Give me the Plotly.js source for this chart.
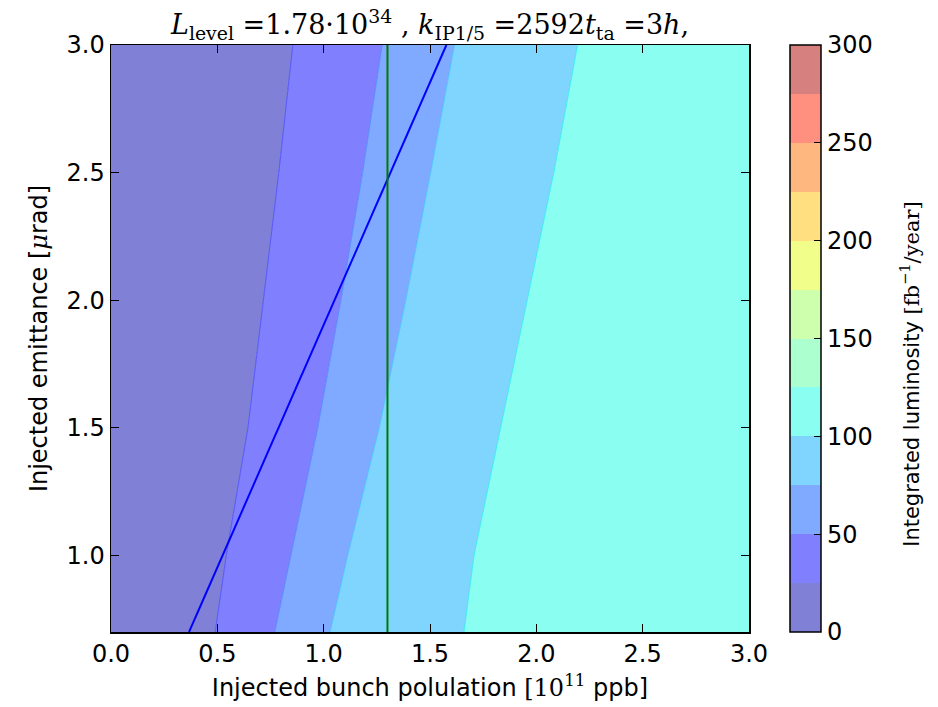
<!DOCTYPE html>
<html>
<head>
<meta charset="utf-8">
<script src="https://cdn.plot.ly/plotly-3.0.1.min.js"></script>
<style>
  html, body { margin: 0; padding: 0; background: #ffffff; }
  #chart { width: 938px; height: 707px; }
</style>
</head>
<body>
<div id="chart"></div>
<script>
// ---- data ----
// emittance samples (y) at which the filled-contour boundaries were read
const emitY = [0.7, 1.0, 1.5, 2.0, 2.5, 3.0];
// bunch population (x) of each contour boundary at those emittances
const bound25  = [0.49, 0.542, 0.644, 0.717, 0.789, 0.855];
const bound50  = [0.77, 0.847, 0.972, 1.081, 1.183, 1.275];
const bound75  = [1.03, 1.113, 1.261, 1.386, 1.503, 1.615];
const bound100 = [1.66, 1.707, 1.832, 1.957, 2.082, 2.194];
// contour levels (fb^-1/year)
const levels = [0, 25, 50, 75, 100, 125, 150, 175, 200, 225, 250, 275, 300];
const levelTicks = [0, 50, 100, 150, 200, 250, 300];
// jet (alpha 0.5 on white) colours of each band
const bandColors = ['#8080d6', '#8080ff', '#80aaff', '#80d5ff', '#8afff1', '#acffce',
                    '#ceffac', '#f1ff8a', '#ffdf80', '#ffb780', '#ff9080', '#d78080'];
// brightness line and chosen bunch population
const brightN = [0.367, 1.577];
const brightE = [0.7, 3.0];
const chosenN = 1.3;
const xTicks = [0.0, 0.5, 1.0, 1.5, 2.0, 2.5, 3.0];
const yTicks = [1.0, 1.5, 2.0, 2.5, 3.0];
const X_RANGE = [0, 3];
const Y_RANGE = [0.7, 3.0];

const sans = 'DejaVu Sans, sans-serif';
const serif = 'DejaVu Serif, serif';

const edgeLeft = emitY.map(() => X_RANGE[0]);
const edgeRight = emitY.map(() => X_RANGE[1]);
const boundaries = [bound25, bound50, bound75, bound100, edgeRight];
const boundLine = ['rgba(70,70,255,0.8)', 'rgba(70,130,255,0.8)', 'rgba(60,190,255,0.8)', 'rgba(40,235,235,0.8)', 'rgba(0,0,0,0)'];

const traces = [];
traces.push({
  x: edgeLeft, y: emitY, mode: 'lines', line: {width: 0, color: 'rgba(0,0,0,0)'},
  showlegend: false, hoverinfo: 'skip'
});
boundaries.forEach((b, i) => {
  traces.push({
    x: b, y: emitY, mode: 'lines', fill: 'tonextx', fillcolor: bandColors[i],
    line: {width: 1, color: boundLine[i]}, showlegend: false, hoverinfo: 'skip'
  });
});

// colour bar source (discrete jet bands)
const nb = bandColors.length;
const cscale = [];
bandColors.forEach((c, i) => {
  cscale.push([i / nb, c]);
  cscale.push([(i + 1) / nb, c]);
});
traces.push({
  x: [null], y: [null], mode: 'markers', showlegend: false, hoverinfo: 'skip',
  marker: {
    color: [levels[0]], cmin: levels[0], cmax: levels[levels.length - 1],
    colorscale: cscale, showscale: true,
    colorbar: {
      x: 1.0643, xanchor: 'left', xref: 'paper', y: 0.5, yanchor: 'middle',
      len: 1, lenmode: 'fraction', thickness: 31, xpad: 0, ypad: 0,
      outlinewidth: 1.5, outlinecolor: '#000',
      tickvals: levelTicks, ticktext: levelTicks.map(String),
      ticks: 'inside', ticklen: 7, tickcolor: '#000', tickwidth: 1,
      tickfont: {family: sans, size: 24, color: '#000'}
    }
  }
});

// brightness line and chosen population line
traces.push({
  x: brightN, y: brightE, mode: 'lines', line: {color: '#0000ff', width: 2},
  showlegend: false, hoverinfo: 'skip'
});
traces.push({
  x: [chosenN, chosenN], y: Y_RANGE, mode: 'lines', line: {color: '#007a00', width: 2},
  showlegend: false, hoverinfo: 'skip'
});

const layout = {
  width: 938, height: 707,
  margin: {l: 111, r: 189, t: 45, b: 75},
  paper_bgcolor: '#ffffff', plot_bgcolor: '#ffffff',
  showlegend: false,
  title: {
    text: '<i>L</i><sub>level</sub> =1.78·10<sup>34</sup> , <i>k</i><sub>IP1/5</sub> =2592<i>t</i><sub>ta</sub> =3<i>h</i>,',
    font: {family: serif, size: 27, color: '#000'},
    xref: 'paper', x: 0.5, xanchor: 'center',
    yref: 'paper', y: 1, yanchor: 'bottom', pad: {b: 11}
  },
  annotations: [{
    text: 'Integrated luminosity <span style="font-family:DejaVu Serif">[fb<sup>−1</sup>/year]</span>',
    font: {family: sans, size: 21, color: '#000'},
    textangle: -90, showarrow: false,
    xref: 'paper', yref: 'paper', x: 1.2525, y: 0.44,
    xanchor: 'center', yanchor: 'middle'
  }],
  xaxis: {
    range: X_RANGE, tickvals: xTicks, ticktext: xTicks.map(v => v.toFixed(1)),
    ticks: 'inside', ticklen: 8, tickcolor: '#000', mirror: 'ticks',
    showline: true, linecolor: '#000', linewidth: 1.5,
    showgrid: false, zeroline: false,
    tickfont: {family: sans, size: 24, color: '#000'},
    title: {
      text: 'Injected bunch polulation <span style="font-family:DejaVu Serif">[10<sup>11</sup></span> ppb]',
      font: {family: sans, size: 24, color: '#000'}, standoff: 12
    }
  },
  yaxis: {
    range: Y_RANGE, tickvals: yTicks, ticktext: yTicks.map(v => v.toFixed(1)),
    ticks: 'inside', ticklen: 8, tickcolor: '#000', mirror: 'ticks',
    showline: true, linecolor: '#000', linewidth: 1.5,
    showgrid: false, zeroline: false,
    tickfont: {family: sans, size: 24, color: '#000'},
    title: {
      text: 'Injected emittance [<span style="font-family:DejaVu Serif"><i>μ</i></span>rad]',
      font: {family: sans, size: 24, color: '#000'}, standoff: 12
    }
  }
};

Plotly.newPlot('chart', traces, layout, {displayModeBar: false, staticPlot: true});
</script>
</body>
</html>
